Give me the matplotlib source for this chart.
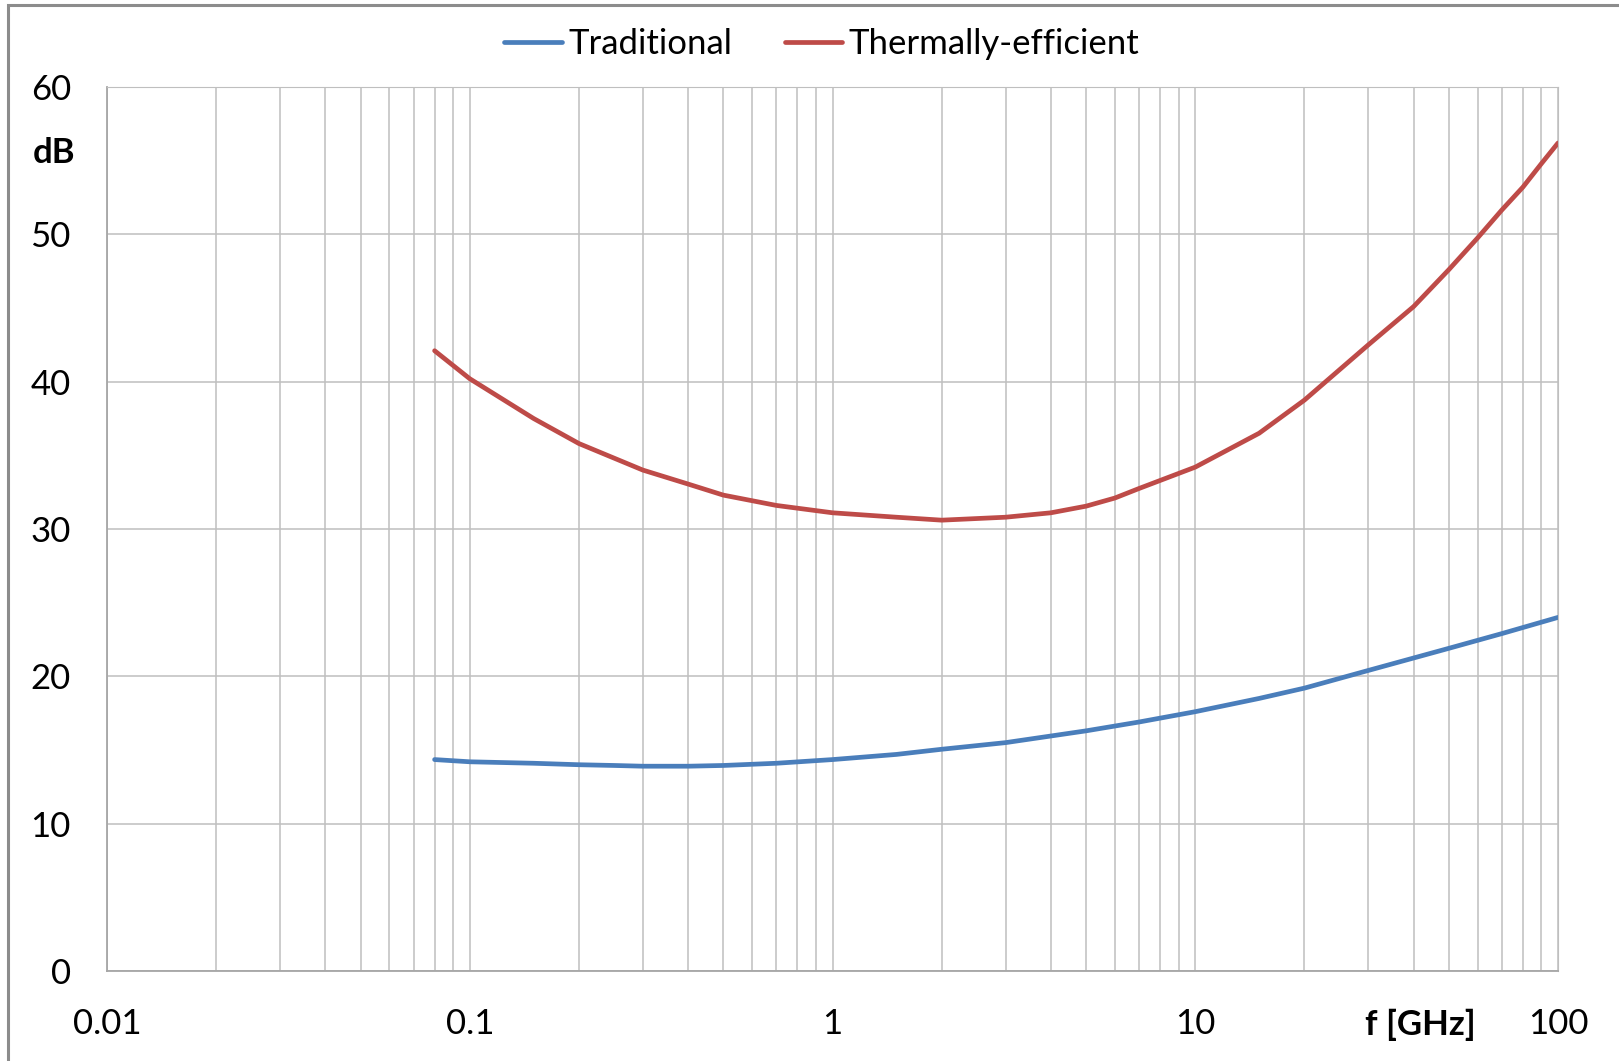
import matplotlib.pyplot as plt
from matplotlib.ticker import LogLocator, FixedLocator, NullFormatter
from matplotlib.patches import Rectangle

plt.rcParams['font.family'] = ['Lato', 'DejaVu Sans']

# values (f in GHz, level in dB)
freq_trad = [0.08, 0.1, 0.15, 0.2, 0.25, 0.3, 0.4, 0.5, 0.7, 1, 1.5, 2, 3, 5, 7, 10, 15, 20, 30, 50, 70, 100]
traditional = [14.35, 14.2, 14.1, 14.0, 13.95, 13.9, 13.9, 13.95, 14.1, 14.35, 14.7, 15.05, 15.5, 16.3, 16.9,
               17.6, 18.5, 19.2, 20.4, 21.9, 22.9, 24.0]
freq_therm = [0.08, 0.1, 0.15, 0.2, 0.3, 0.4, 0.5, 0.7, 1, 1.5, 2, 3, 4, 5, 6, 7, 10, 15, 20,
              30, 40, 50, 60, 70, 80, 90, 100]
thermal = [42.1, 40.2, 37.5, 35.8, 34.0, 33.05, 32.3, 31.6, 31.1, 30.8, 30.6, 30.8, 31.1, 31.55, 32.1, 32.75,
           34.2, 36.5, 38.75, 42.5, 45.1, 47.6, 49.75, 51.65, 53.2, 54.8, 56.2]
x_ticks = [0.01, 0.1, 1, 10, 100]
x_labels = ["0.01", "0.1", "1", "10", "100"]
y_ticks = [0, 10, 20, 30, 40, 50, 60]

W, H = 1619, 1061
fig = plt.figure(figsize=(W / 100, H / 100), dpi=100)
ax = fig.add_axes([107 / W, 1 - 971 / H, (1558 - 107) / W, (971 - 87) / H])

grid_c = "#BFBFBF"
ax.plot(freq_trad, traditional, color="#4A7EBB", lw=3.4, label="Traditional", solid_capstyle="round")
ax.plot(freq_therm, thermal, color="#BE4B48", lw=3.4, label="Thermally-efficient", solid_capstyle="round")

ax.set_xscale("log")
ax.set_xlim(0.01, 100)
ax.set_ylim(0, 60)
ax.xaxis.set_major_locator(FixedLocator(x_ticks))
ax.xaxis.set_minor_locator(LogLocator(base=10, subs=range(2, 10)))
ax.xaxis.set_minor_formatter(NullFormatter())
ax.set_xticks(x_ticks, x_labels)
ax.set_yticks(y_ticks)
ax.grid(True, which="major", color=grid_c, lw=1.1)
ax.grid(True, which="minor", axis="x", color=grid_c, lw=1.1)
ax.set_axisbelow(True)
ax.tick_params(which="both", length=0, labelsize=25, colors="black")
ax.tick_params(axis="x", pad=27)
ax.tick_params(axis="y", pad=26)
for side in ["top", "right"]:
    ax.spines[side].set_color(grid_c)
for side in ["left", "bottom"]:
    ax.spines[side].set_color("#A6A6A6")
    ax.spines[side].set_linewidth(1.3)

fig.text(54 / W, 1 - 153 / H, "dB", fontsize=25, fontweight="bold", ha="center", va="center")
fig.text(1420 / W, 1 - 1025 / H, "f [GHz]", fontsize=25, fontweight="bold", ha="center", va="center")

ax.legend(loc="center", bbox_to_anchor=(822 / W, 1 - 44 / H), bbox_transform=fig.transFigure,
          ncol=2, frameon=False, fontsize=25, handlelength=1.65, handletextpad=0.2, columnspacing=1.5)

# chart area border
fig.patches.append(Rectangle((8 / W, -0.1), 1.2, 1 - 5 / H + 0.1, transform=fig.transFigure,
                             fill=False, edgecolor="#8C8C8C", lw=2.2))

fig.savefig("out.png", dpi=100)
